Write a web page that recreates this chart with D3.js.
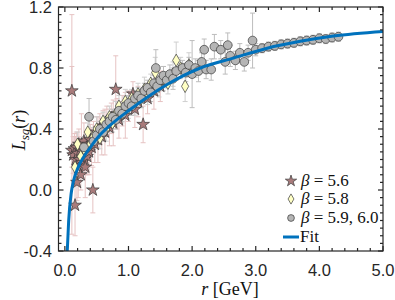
<!DOCTYPE html>
<html>
<head>
<meta charset="utf-8">
<script src="https://cdn.jsdelivr.net/npm/d3@7"></script>
<style>
  body { margin: 0; background: #fff; }
  svg { display: block; }
  .tick-label { font-family: "Liberation Sans", Arial, Helvetica, sans-serif; font-size: 16.5px; fill: #262626; }
  .tex { font-family: "Liberation Serif", "Times New Roman", serif; fill: #111; }
</style>
</head>
<body>
<svg id="chart" width="395" height="300"></svg>
<script>
// [r, L, error]
const beta56 = [
  [0.11, 0.65, 0.5], [0.11, 0.26, 0.55], [0.13, 0.23, 0.12], [0.15, 0.27, 0.1],
  [0.16, -0.1, 0.2], [0.17, 0.2, 0.15], [0.18, 0.28, 0.1], [0.19, 0.05, 0.12],
  [0.2, 0.24, 0.08], [0.21, 0.15, 0.2], [0.22, 0.3, 0.1], [0.23, 0.2, 0.1],
  [0.24, 0.26, 0.07], [0.25, 0.1, 0.1], [0.26, 0.3, 0.2], [0.27, 0.18, 0.1],
  [0.28, 0.25, 0.08], [0.3, 0.32, 0.12], [0.31, 0.2, 0.1], [0.32, 0.15, 0.2],
  [0.34, 0.28, 0.1], [0.35, 0.22, 0.12], [0.37, 0.3, 0.1], [0.38, 0.25, 0.15],
  [0.4, 0.33, 0.1], [0.42, 0.28, 0.12], [0.44, 0.0, 0.15], [0.45, 0.35, 0.1],
  [0.47, 0.3, 0.12], [0.5, 0.38, 0.1], [0.52, 0.33, 0.15], [0.55, 0.4, 0.1],
  [0.58, 0.35, 0.12], [0.6, 0.42, 0.1], [0.63, 0.38, 0.15], [0.66, 0.45, 0.1],
  [0.7, 0.41, 0.12], [0.73, 0.47, 0.1], [0.76, 0.44, 0.15], [0.8, 0.66, 0.22],
  [0.82, 0.5, 0.1], [0.85, 0.46, 0.12], [0.9, 0.52, 0.1], [0.95, 0.49, 0.15],
  [1.0, 0.55, 0.1], [1.07, 0.63, 0.08], [1.1, 0.53, 0.12], [1.15, 0.58, 0.1],
  [1.23, 0.43, 0.12], [1.3, 0.6, 0.1], [1.4, 0.65, 0.12], [1.5, 0.68, 0.1]
];

const beta58 = [
  [0.16, 0.15, 0.1], [0.2, 0.3, 0.08], [0.25, 0.22, 0.06], [0.3, 0.27, 0.08],
  [0.36, 0.38, 0.06], [0.4, 0.3, 0.07], [0.45, 0.35, 0.06], [0.5, 0.4, 0.08],
  [0.55, 0.34, 0.07], [0.6, 0.45, 0.06], [0.65, 0.4, 0.08], [0.7, 0.48, 0.07],
  [0.75, 0.44, 0.06], [0.8, 0.5, 0.08], [0.85, 0.55, 0.07], [0.9, 0.5, 0.06],
  [0.95, 0.58, 0.08], [1.0, 0.54, 0.07], [1.05, 0.6, 0.06], [1.1, 0.57, 0.08],
  [1.15, 0.63, 0.07], [1.2, 0.6, 0.06], [1.25, 0.66, 0.08], [1.3, 0.63, 0.07],
  [1.35, 0.7, 0.06], [1.42, 0.77, 0.1], [1.48, 0.68, 0.07], [1.55, 0.73, 0.08],
  [1.62, 0.7, 0.07], [1.7, 0.76, 0.08], [1.75, 0.85, 0.12], [1.82, 0.8, 0.07],
  [1.89, 0.68, 0.1], [1.95, 0.82, 0.08]
];

const beta5960 = [
  [0.3, 0.28, 0.06], [0.38, 0.48, 0.12], [0.45, 0.32, 0.05], [0.5, 0.36, 0.05],
  [0.55, 0.4, 0.05], [0.6, 0.38, 0.06], [0.65, 0.43, 0.05], [0.7, 0.45, 0.05],
  [0.75, 0.48, 0.05], [0.8, 0.46, 0.06], [0.85, 0.52, 0.05], [0.9, 0.5, 0.05],
  [0.95, 0.55, 0.06], [1.0, 0.57, 0.05], [1.05, 0.55, 0.06], [1.1, 0.6, 0.05],
  [1.15, 0.62, 0.05], [1.2, 0.6, 0.06], [1.25, 0.65, 0.05], [1.3, 0.67, 0.05],
  [1.35, 0.64, 0.06], [1.4, 0.7, 0.05], [1.43, 0.8, 0.12], [1.45, 0.68, 0.06],
  [1.5, 0.72, 0.05], [1.55, 0.75, 0.06], [1.6, 0.72, 0.05], [1.65, 0.76, 0.06],
  [1.7, 0.73, 0.07], [1.75, 0.78, 0.06], [1.85, 0.8, 0.05], [1.9, 0.77, 0.06],
  [1.95, 0.82, 0.05], [2.0, 0.76, 0.22], [2.05, 0.8, 0.06], [2.1, 0.78, 0.07],
  [2.15, 0.84, 0.06], [2.19, 0.92, 0.07], [2.22, 0.79, 0.06], [2.3, 0.79, 0.07],
  [2.35, 0.94, 0.08], [2.45, 0.92, 0.06], [2.52, 0.84, 0.08], [2.56, 0.95, 0.08],
  [2.6, 0.88, 0.07], [2.68, 0.85, 0.06], [2.75, 0.9, 0.06], [2.82, 0.84, 0.06],
  [2.88, 0.9, 0.05], [2.95, 0.98, 0.18], [3.0, 0.92, 0.04], [3.1, 0.93, 0.03],
  [3.2, 0.94, 0.03], [3.3, 0.945, 0.03], [3.4, 0.955, 0.03], [3.5, 0.96, 0.03],
  [3.6, 0.965, 0.03], [3.7, 0.975, 0.03], [3.8, 0.98, 0.03], [3.9, 0.985, 0.03],
  [4.0, 0.995, 0.03], [4.1, 0.99, 0.03], [4.2, 1.0, 0.03], [4.3, 1.005, 0.03]
];

const fitR = [0.03, 0.04, 0.06, 0.1, 0.13, 0.2, 0.3, 0.4, 0.55, 0.7, 1.0, 1.3, 1.6,
  2.13, 2.65, 3.18, 3.7, 4.22, 5.0];
const fitL = [-0.45, -0.38, -0.2, -0.02, 0.05, 0.14, 0.22, 0.28, 0.36, 0.42, 0.52,
  0.61, 0.69, 0.80, 0.865, 0.93, 0.975, 1.01, 1.04];

const xTicks = [0, 1, 2, 3, 4, 5];
const yTicks = [-0.4, 0, 0.4, 0.8, 1.2];

const svg = d3.select("#chart");
const plotLeft = 58.5, plotRight = 383, plotTop = 7, plotBottom = 251;

const x = d3.scaleLinear().domain([-0.1, 5.0]).range([plotLeft, plotRight]);
const y = d3.scaleLinear().domain([-0.4, 1.2]).range([plotBottom, plotTop]);

svg.append("defs").append("clipPath").attr("id", "clip")
  .append("rect").attr("x", plotLeft).attr("y", plotTop)
  .attr("width", plotRight - plotLeft).attr("height", plotBottom - plotTop);

const plot = svg.append("g").attr("clip-path", "url(#clip)");

// error bars
function errorBars(data, color) {
  const g = plot.append("g").attr("stroke", color).attr("stroke-width", 1);
  data.forEach((d) => {
    const cx = x(d[0]);
    g.append("line").attr("x1", cx).attr("x2", cx)
      .attr("y1", y(d[1] - d[2])).attr("y2", y(d[1] + d[2]));
    [d[1] - d[2], d[1] + d[2]].forEach((v) => {
      g.append("line").attr("x1", cx - 2.5).attr("x2", cx + 2.5)
        .attr("y1", y(v)).attr("y2", y(v));
    });
  });
}
errorBars(beta56, "#e6c3c3");
errorBars(beta58, "#cfcfcf");
errorBars(beta5960, "#bdbdbd");

const starColor = "#a97b7b", diamondColor = "#ffffc4", circleColor = "#b5b5b5";

function markers(data, type, size, fill) {
  plot.append("g").selectAll("path").data(data).join("path")
    .attr("transform", (d) => `translate(${x(d[0])},${y(d[1])})`)
    .attr("d", d3.symbol().type(type).size(size))
    .attr("fill", fill).attr("stroke", "#3a3a3a").attr("stroke-width", 0.7);
}
markers(beta56, d3.symbolStar, 50, starColor);
markers(beta58, d3.symbolDiamond, 45, diamondColor);
markers(beta5960, d3.symbolCircle, 60, circleColor);

const line = d3.line().x((d, i) => x(fitR[i])).y((d) => y(d)).curve(d3.curveMonotoneX);
plot.append("path").datum(fitL).attr("d", line)
  .attr("fill", "none").attr("stroke", "#0072bd").attr("stroke-width", 3);

// axes box with inward ticks
const axisColor = "#262626";
const ax = svg.append("g").attr("stroke", axisColor).attr("stroke-width", 1.2);
ax.append("rect").attr("x", plotLeft).attr("y", plotTop)
  .attr("width", plotRight - plotLeft).attr("height", plotBottom - plotTop).attr("fill", "none");

d3.range(0, 5.01, 0.2).forEach((v) => {
  const major = Math.abs(v - Math.round(v)) < 1e-6;
  const len = major ? 5 : 3;
  ax.append("line").attr("x1", x(v)).attr("x2", x(v)).attr("y1", plotBottom).attr("y2", plotBottom - len);
  ax.append("line").attr("x1", x(v)).attr("x2", x(v)).attr("y1", plotTop).attr("y2", plotTop + len);
});
d3.range(-0.4, 1.2001, 0.05).forEach((v) => {
  const major = Math.abs(v / 0.4 - Math.round(v / 0.4)) < 1e-6;
  const len = major ? 5 : 3;
  ax.append("line").attr("x1", plotLeft).attr("x2", plotLeft + len).attr("y1", y(v)).attr("y2", y(v));
  ax.append("line").attr("x1", plotRight).attr("x2", plotRight - len).attr("y1", y(v)).attr("y2", y(v));
});

svg.append("g").selectAll("text").data(xTicks).join("text")
  .attr("class", "tick-label")
  .attr("x", (d) => x(d)).attr("y", 276)
  .attr("text-anchor", "middle").text((d) => d.toFixed(1));

svg.append("g").selectAll("text").data(yTicks).join("text")
  .attr("class", "tick-label")
  .attr("x", 52).attr("y", (d) => y(d) + 6)
  .attr("text-anchor", "end").text((d) => d.toFixed(1));

// x label
const xl = svg.append("text").attr("class", "tex").attr("x", 230).attr("y", 295)
  .attr("text-anchor", "middle").style("font-size", "18px");
xl.append("tspan").style("font-style", "italic").text("r");
xl.append("tspan").text(" [GeV]");

// y label
const yl = svg.append("text").attr("class", "tex").attr("transform", "translate(25,130) rotate(-90)")
  .attr("text-anchor", "middle").style("font-size", "18px");
yl.append("tspan").style("font-style", "italic").text("L");
yl.append("tspan").style("font-style", "italic").style("font-size", "13px").attr("dy", 4).text("sg");
yl.append("tspan").attr("dy", -4).text("(");
yl.append("tspan").style("font-style", "italic").text("r");
yl.append("tspan").text(")");

// legend
const legend = [
  { label: "5.6", type: d3.symbolStar, size: 40, fill: starColor, y: 181 },
  { label: "5.8", type: d3.symbolDiamond, size: 30, fill: diamondColor, y: 199 },
  { label: "5.9, 6.0", type: d3.symbolCircle, size: 36, fill: circleColor, y: 218 }
];
const lg = svg.append("g");
legend.forEach((d) => {
  lg.append("path").attr("transform", `translate(291,${d.y})`)
    .attr("d", d3.symbol().type(d.type).size(d.size))
    .attr("fill", d.fill).attr("stroke", "#3a3a3a").attr("stroke-width", 0.7);
  const t = lg.append("text").attr("class", "tex").attr("x", 301).attr("y", d.y + 5)
    .style("font-size", "17px");
  t.append("tspan").style("font-style", "italic").text("β");
  t.append("tspan").text(" = " + d.label);
});
lg.append("line").attr("x1", 283).attr("x2", 299).attr("y1", 237).attr("y2", 237)
  .attr("stroke", "#0072bd").attr("stroke-width", 3);
lg.append("text").attr("class", "tex").attr("x", 300).attr("y", 242)
  .style("font-size", "17px").text("Fit");
</script>
</body>
</html>
